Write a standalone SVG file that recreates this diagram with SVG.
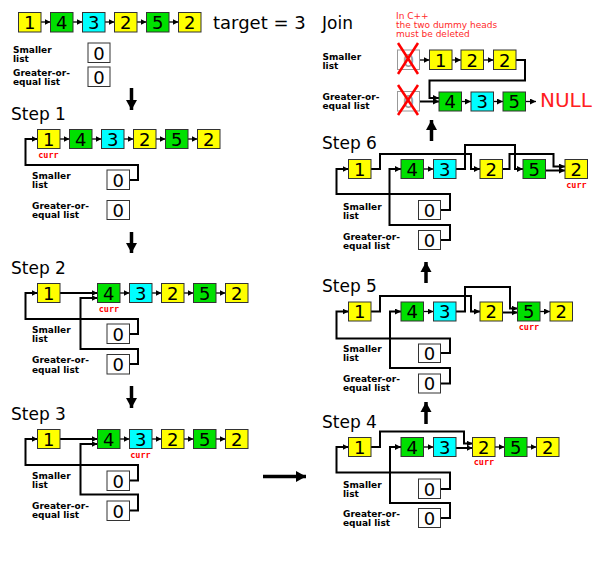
<svg xmlns="http://www.w3.org/2000/svg" width="600" height="563" viewBox="0 0 600 563">
<style>
rect{stroke:#333;stroke-width:1}
.y{fill:#ffff00}.g{fill:#00e000}.c{fill:#00ffff}.w{fill:#fff}
.d{fill:#fff;stroke:#999}
.n{font-family:"DejaVu Sans",sans-serif;font-size:18px;text-anchor:middle;fill:#000}
.dn{font-family:"DejaVu Sans",sans-serif;font-size:18px;text-anchor:middle;fill:#999}
.t{font-family:"DejaVu Sans",sans-serif;font-size:17px;fill:#000}
.l{font-family:"DejaVu Sans",sans-serif;font-size:9px;font-weight:bold;fill:#000}
.cu{font-family:"DejaVu Sans Mono",monospace;font-size:8.5px;font-weight:bold;fill:#ff0000;text-anchor:middle}
.r{font-family:"DejaVu Sans",sans-serif;font-size:9px;fill:#ff2a2a}
.a{fill:none;stroke:#000;stroke-width:1.3;marker-end:url(#ah)}
.p{fill:none;stroke:#000;stroke-width:2;marker-end:url(#ah)}
.big{fill:none;stroke:#000;stroke-width:3.5;marker-end:url(#bh)}
.x{stroke:#ff0000;stroke-width:2.5}
</style>
<defs>
<marker id="ah" markerUnits="userSpaceOnUse" markerWidth="6" markerHeight="6" refX="6" refY="3" orient="auto"><path d="M0,0 L6,3 L0,6 z" fill="#000"/></marker>
<marker id="bh" markerUnits="userSpaceOnUse" markerWidth="12" markerHeight="12" refX="10" refY="6" orient="auto"><path d="M0,0.5 L10,6 L0,11.5 z" fill="#000"/></marker>
</defs>

<!-- Titles and labels -->
<g id="labels">
<text class="n" x="213" y="29" style="text-anchor:start">target = 3</text>
<text class="l" x="13" y="53">Smaller</text><text class="l" x="13" y="61.5">list</text>
<text class="l" x="13" y="76">Greater-or-</text><text class="l" x="13" y="85">equal list</text>

<text class="t" x="11" y="120">Step 1</text>
<text class="l" x="32" y="179">Smaller</text><text class="l" x="32" y="188">list</text>
<text class="l" x="32" y="209">Greater-or-</text><text class="l" x="32" y="218">equal list</text>
<text class="cu" x="48.5" y="157.5">curr</text>

<text class="t" x="11" y="274">Step 2</text>
<text class="l" x="32" y="333">Smaller</text><text class="l" x="32" y="342">list</text>
<text class="l" x="32" y="363">Greater-or-</text><text class="l" x="32" y="372.5">equal list</text>
<text class="cu" x="109" y="311.5">curr</text>

<text class="t" x="11" y="420">Step 3</text>
<text class="l" x="32" y="478.5">Smaller</text><text class="l" x="32" y="487.5">list</text>
<text class="l" x="32" y="508.5">Greater-or-</text><text class="l" x="32" y="517.5">equal list</text>
<text class="cu" x="140.5" y="457.5">curr</text>

<text class="t" x="322" y="428">Step 4</text>
<text class="l" x="343" y="487.5">Smaller</text><text class="l" x="343" y="496.5">list</text>
<text class="l" x="343" y="516.5">Greater-or-</text><text class="l" x="343" y="526">equal list</text>
<text class="cu" x="484" y="464.5">curr</text>

<text class="t" x="322" y="291.5">Step 5</text>
<text class="l" x="343" y="351.5">Smaller</text><text class="l" x="343" y="360.5">list</text>
<text class="l" x="343" y="381.5">Greater-or-</text><text class="l" x="343" y="390.5">equal list</text>
<text class="cu" x="529" y="329.5">curr</text>

<text class="t" x="322" y="149">Step 6</text>
<text class="l" x="343" y="209.5">Smaller</text><text class="l" x="343" y="218.5">list</text>
<text class="l" x="343" y="239.5">Greater-or-</text><text class="l" x="343" y="248.5">equal list</text>
<text class="cu" x="576.5" y="187.5">curr</text>

<text class="t" x="322" y="29">Join</text>
<text class="r" x="396" y="19">In C++</text>
<text class="r" x="396" y="28">the two dummy heads</text>
<text class="r" x="396" y="37">must be deleted</text>
<text class="l" x="322.5" y="60">Smaller</text><text class="l" x="322.5" y="68.5">list</text>
<text class="l" x="322.5" y="100">Greater-or-</text><text class="l" x="322.5" y="108.5">equal list</text>
<text x="540" y="107" style="font-family:'DejaVu Sans',sans-serif;font-size:20px;fill:#ff2020">NULL</text>
</g>

<!-- Connectors -->
<g id="connectors">
<!-- top -->
<path class="a" d="M41,22 H50.5"/><path class="a" d="M73,22 H82.5"/><path class="a" d="M105,22 H114.5"/><path class="a" d="M137,22 H146.5"/><path class="a" d="M169,22 H178.5"/>
<path class="big" d="M131.5,88 V110"/>
<!-- step1 -->
<path class="a" d="M60,139 H69.5"/><path class="a" d="M92,139 H101.5"/><path class="a" d="M124,139 H133.5"/><path class="a" d="M156,139 H165.5"/><path class="a" d="M188,139 H197.5"/>
<path class="p" d="M129.5,180 H138 V165 H25.5 V139 H37.5"/>
<path class="big" d="M131.5,232 V253"/>
<!-- step2 -->
<path class="p" d="M60,293 H97.5"/>
<path class="a" d="M120,293 H129.5"/><path class="a" d="M152,293 H161.5"/><path class="a" d="M184,293 H193.5"/><path class="a" d="M216,293 H225.5"/>
<path class="p" d="M129.5,334 H138 V319 H25.5 V293 H37.5"/>
<path class="p" d="M129.5,364 H138 V349 H80.5 V298 H97.5"/>
<path class="big" d="M131.5,386 V408"/>
<!-- step3 -->
<path class="p" d="M60,439 H97.5"/>
<path class="a" d="M120,439 H129.5"/><path class="a" d="M152,439 H161.5"/><path class="a" d="M184,439 H193.5"/><path class="a" d="M216,439 H225.5"/>
<path class="p" d="M129.5,480.5 H138 V465 H25.5 V439 H37.5"/>
<path class="p" d="M129.5,510.5 H138 V494.5 H80.5 V444 H97.5"/>
<path class="big" d="M263,476.5 H306"/>
<!-- step4 -->
<path class="big" d="M426,424 V402"/>
<path class="a" d="M423.5,447 H433.5"/><path class="p" d="M456,448 H472.5"/><path class="a" d="M495,447 H504.5"/><path class="a" d="M527,447 H536.5"/>
<path class="p" d="M371,447 H380 V431.5 H464 V443.5 H472.5"/>
<path class="p" d="M440.5,489 H450 V472.5 H336.5 V447 H348.5"/>
<path class="p" d="M440.5,518 H450 V503 H390 V447 H401"/>
<!-- step5 -->
<path class="big" d="M426,283 V262"/>
<path class="a" d="M423.5,311.5 H433.5"/><path class="a" d="M540,311.5 H550"/>
<path class="p" d="M371,311.5 H380 V296 H471 V311.5 H480"/>
<path class="p" d="M456,311.5 H465 V287 H510 V308.5 H517.5"/>
<path class="p" d="M502.5,312.5 H517.5"/>
<path class="p" d="M440.5,353 H450 V338.5 H336.5 V311.5 H348.5"/>
<path class="p" d="M440.5,383.5 H450 V368 H390 V311.5 H401"/>
<!-- step6 -->
<path class="big" d="M431.5,141 V120"/>
<path class="a" d="M423.5,169 H433.5"/>
<path class="p" d="M371,169 H380 V154 H471 V169 H480"/>
<path class="p" d="M456,169 H465 V145 H515 V169 H523"/>
<path class="p" d="M502.5,169 H509.5 V154 H553.5 V166.5 H565"/>
<path class="p" d="M545.5,170.5 H565"/>
<path class="p" d="M440.5,210 H450 V194 H336.5 V169 H348.5"/>
<path class="p" d="M440.5,240 H450 V225 H389.5 V169 H401"/>
<!-- join -->
<path class="a" d="M420,60 H429.5"/><path class="a" d="M452,60 H461"/><path class="a" d="M484,60 H493.5"/>
<path class="p" d="M516,60 H525 V80.5 H429.5 V98 H439"/>
<path class="p" d="M420,101.5 H439"/>
<path class="a" d="M461.5,101.5 H471"/><path class="a" d="M493.5,101.5 H503"/><path class="a" d="M525.5,101.5 H536"/>
</g>

<!-- Top list -->
<g id="t1"><rect class="y" x="18.5" y="12.5" width="22.5" height="19.5"/><text class="n" x="29.75" y="29">1</text></g>
<g id="t2"><rect class="g" x="50.5" y="12.5" width="22.5" height="19.5"/><text class="n" x="61.75" y="29">4</text></g>
<g id="t3"><rect class="c" x="82.5" y="12.5" width="22.5" height="19.5"/><text class="n" x="93.75" y="29">3</text></g>
<g id="t4"><rect class="y" x="114.5" y="12.5" width="22.5" height="19.5"/><text class="n" x="125.75" y="29">2</text></g>
<g id="t5"><rect class="g" x="146.5" y="12.5" width="22.5" height="19.5"/><text class="n" x="157.75" y="29">5</text></g>
<g id="t6"><rect class="y" x="178.5" y="12.5" width="22.5" height="19.5"/><text class="n" x="189.75" y="29">2</text></g>
<g id="tS"><rect class="w" x="88" y="43" width="22" height="19.5"/><text class="n" x="99" y="59.5">0</text></g>
<g id="tG"><rect class="w" x="88" y="67" width="22" height="19.5"/><text class="n" x="99" y="83.5">0</text></g>

<!-- Step 1 -->
<g id="s1n1"><rect class="y" x="37.5" y="129.5" width="22.5" height="19"/><text class="n" x="48.75" y="145.5">1</text></g>
<g id="s1n2"><rect class="g" x="69.5" y="129.5" width="22.5" height="19"/><text class="n" x="80.75" y="145.5">4</text></g>
<g id="s1n3"><rect class="c" x="101.5" y="129.5" width="22.5" height="19"/><text class="n" x="112.75" y="145.5">3</text></g>
<g id="s1n4"><rect class="y" x="133.5" y="129.5" width="22.5" height="19"/><text class="n" x="144.75" y="145.5">2</text></g>
<g id="s1n5"><rect class="g" x="165.5" y="129.5" width="22.5" height="19"/><text class="n" x="176.75" y="145.5">5</text></g>
<g id="s1n6"><rect class="y" x="197.5" y="129.5" width="22.5" height="19"/><text class="n" x="208.75" y="145.5">2</text></g>
<g id="s1S"><rect class="w" x="107" y="170" width="22.5" height="19.5"/><text class="n" x="118.25" y="186.5">0</text></g>
<g id="s1G"><rect class="w" x="107" y="200.5" width="22.5" height="19"/><text class="n" x="118.25" y="216.5">0</text></g>

<!-- Step 2 -->
<g id="s2n1"><rect class="y" x="37.5" y="283.5" width="22.5" height="19"/><text class="n" x="48.75" y="299.5">1</text></g>
<g id="s2n2"><rect class="g" x="97.5" y="283.5" width="22.5" height="19"/><text class="n" x="108.75" y="299.5">4</text></g>
<g id="s2n3"><rect class="c" x="129.5" y="283.5" width="22.5" height="19"/><text class="n" x="140.75" y="299.5">3</text></g>
<g id="s2n4"><rect class="y" x="161.5" y="283.5" width="22.5" height="19"/><text class="n" x="172.75" y="299.5">2</text></g>
<g id="s2n5"><rect class="g" x="193.5" y="283.5" width="22.5" height="19"/><text class="n" x="204.75" y="299.5">5</text></g>
<g id="s2n6"><rect class="y" x="225.5" y="283.5" width="22.5" height="19"/><text class="n" x="236.75" y="299.5">2</text></g>
<g id="s2S"><rect class="w" x="107" y="324" width="22.5" height="19.5"/><text class="n" x="118.25" y="340.5">0</text></g>
<g id="s2G"><rect class="w" x="107" y="354.5" width="22.5" height="19.5"/><text class="n" x="118.25" y="371">0</text></g>

<!-- Step 3 -->
<g id="s3n1"><rect class="y" x="37.5" y="429.5" width="22.5" height="19"/><text class="n" x="48.75" y="445.5">1</text></g>
<g id="s3n2"><rect class="g" x="97.5" y="429.5" width="22.5" height="19"/><text class="n" x="108.75" y="445.5">4</text></g>
<g id="s3n3"><rect class="c" x="129.5" y="429.5" width="22.5" height="19"/><text class="n" x="140.75" y="445.5">3</text></g>
<g id="s3n4"><rect class="y" x="161.5" y="429.5" width="22.5" height="19"/><text class="n" x="172.75" y="445.5">2</text></g>
<g id="s3n5"><rect class="g" x="193.5" y="429.5" width="22.5" height="19"/><text class="n" x="204.75" y="445.5">5</text></g>
<g id="s3n6"><rect class="y" x="225.5" y="429.5" width="22.5" height="19"/><text class="n" x="236.75" y="445.5">2</text></g>
<g id="s3S"><rect class="w" x="107" y="471" width="22.5" height="19.5"/><text class="n" x="118.25" y="487.5">0</text></g>
<g id="s3G"><rect class="w" x="107" y="501" width="22.5" height="19.5"/><text class="n" x="118.25" y="517.5">0</text></g>

<!-- Step 4 -->
<g id="s4n1"><rect class="y" x="348.5" y="437.5" width="22.5" height="19"/><text class="n" x="359.75" y="453.5">1</text></g>
<g id="s4n2"><rect class="g" x="401" y="437.5" width="22.5" height="19"/><text class="n" x="412.25" y="453.5">4</text></g>
<g id="s4n3"><rect class="c" x="433.5" y="437.5" width="22.5" height="19"/><text class="n" x="444.75" y="453.5">3</text></g>
<g id="s4n4"><rect class="y" x="472.5" y="437.5" width="22.5" height="19"/><text class="n" x="483.75" y="453.5">2</text></g>
<g id="s4n5"><rect class="g" x="504.5" y="437.5" width="22.5" height="19"/><text class="n" x="515.75" y="453.5">5</text></g>
<g id="s4n6"><rect class="y" x="536.5" y="437.5" width="22.5" height="19"/><text class="n" x="547.75" y="453.5">2</text></g>
<g id="s4S"><rect class="w" x="418.5" y="479" width="22" height="19.5"/><text class="n" x="429.5" y="495.5">0</text></g>
<g id="s4G"><rect class="w" x="418.5" y="508.5" width="22" height="19"/><text class="n" x="429.5" y="524.5">0</text></g>

<!-- Step 5 -->
<g id="s5n1"><rect class="y" x="348.5" y="302" width="22.5" height="19"/><text class="n" x="359.75" y="318">1</text></g>
<g id="s5n2"><rect class="g" x="401" y="302" width="22.5" height="19"/><text class="n" x="412.25" y="318">4</text></g>
<g id="s5n3"><rect class="c" x="433.5" y="302" width="22.5" height="19"/><text class="n" x="444.75" y="318">3</text></g>
<g id="s5n4"><rect class="y" x="480" y="302" width="22.5" height="19"/><text class="n" x="491.25" y="318">2</text></g>
<g id="s5n5"><rect class="g" x="517.5" y="302" width="22.5" height="19"/><text class="n" x="528.75" y="318">5</text></g>
<g id="s5n6"><rect class="y" x="550" y="302" width="22.5" height="19"/><text class="n" x="561.25" y="318">2</text></g>
<g id="s5S"><rect class="w" x="418.5" y="344" width="22" height="18.5"/><text class="n" x="429.5" y="360">0</text></g>
<g id="s5G"><rect class="w" x="418.5" y="374" width="22" height="19"/><text class="n" x="429.5" y="390">0</text></g>

<!-- Step 6 -->
<g id="s6n1"><rect class="y" x="348.5" y="159.5" width="22.5" height="19"/><text class="n" x="359.75" y="175.5">1</text></g>
<g id="s6n2"><rect class="g" x="401" y="159.5" width="22.5" height="19"/><text class="n" x="412.25" y="175.5">4</text></g>
<g id="s6n3"><rect class="c" x="433.5" y="159.5" width="22.5" height="19"/><text class="n" x="444.75" y="175.5">3</text></g>
<g id="s6n4"><rect class="y" x="480" y="159.5" width="22.5" height="19"/><text class="n" x="491.25" y="175.5">2</text></g>
<g id="s6n5"><rect class="g" x="523" y="159.5" width="22.5" height="19"/><text class="n" x="534.25" y="175.5">5</text></g>
<g id="s6n6"><rect class="y" x="565" y="159.5" width="22.5" height="19"/><text class="n" x="576.25" y="175.5">2</text></g>
<g id="s6S"><rect class="w" x="418.5" y="200.5" width="22" height="19"/><text class="n" x="429.5" y="216.5">0</text></g>
<g id="s6G"><rect class="w" x="418.5" y="230.5" width="22" height="19"/><text class="n" x="429.5" y="246.5">0</text></g>

<!-- Join -->
<g id="jS"><rect class="d" x="397.5" y="50" width="22" height="19.5"/><text class="dn" x="408.5" y="66.5">0</text><line class="x" x1="398" y1="43" x2="418" y2="74"/><line class="x" x1="418" y1="43" x2="398" y2="74"/></g>
<g id="j1"><rect class="y" x="429.5" y="50" width="22.5" height="19.5"/><text class="n" x="440.75" y="66.5">1</text></g>
<g id="j2"><rect class="y" x="461" y="50" width="22.5" height="19.5"/><text class="n" x="472.25" y="66.5">2</text></g>
<g id="j3"><rect class="y" x="493.5" y="50" width="22.5" height="19.5"/><text class="n" x="504.75" y="66.5">2</text></g>
<g id="jG"><rect class="d" x="397.5" y="91.5" width="22" height="19.5"/><text class="dn" x="408.5" y="108">0</text><line class="x" x1="398" y1="85" x2="418" y2="115"/><line class="x" x1="418" y1="85" x2="398" y2="115"/></g>
<g id="j4"><rect class="g" x="439" y="92" width="22.5" height="19"/><text class="n" x="450.25" y="108">4</text></g>
<g id="j5"><rect class="c" x="471" y="92" width="22.5" height="19"/><text class="n" x="482.25" y="108">3</text></g>
<g id="j6"><rect class="g" x="503" y="92" width="22.5" height="19"/><text class="n" x="514.25" y="108">5</text></g>
</svg>
